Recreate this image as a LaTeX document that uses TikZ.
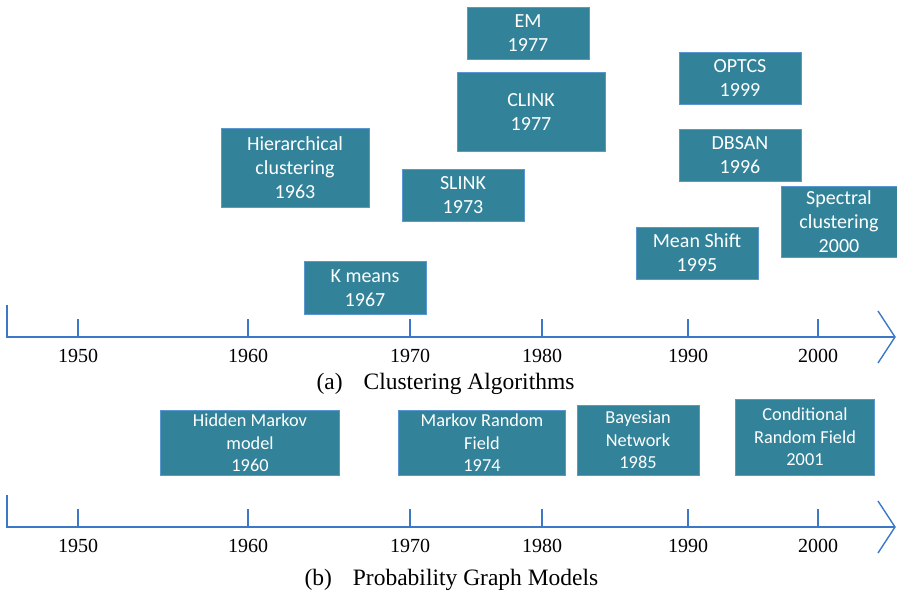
\documentclass[tikz,border=0pt]{standalone}
\usepackage{fontspec}
\setmainfont{Liberation Serif}
\newfontfamily\boxfont{Carlito}
\definecolor{boxfill}{RGB}{50,131,153}
\definecolor{boxline}{RGB}{90,150,210}
\definecolor{axisblue}{RGB}{60,120,200}
\tikzset{
  algo/.style={draw=boxline,fill=boxfill,text=white,align=center,inner sep=0pt,
    font=\boxfont\fontsize{20}{24}\selectfont},
  model/.style={algo,font=\boxfont\fontsize{18.3}{22.5}\selectfont},
  axisline/.style={axisblue,line width=1.4pt},
  yearlbl/.style={font=\fontsize{20}{22}\selectfont,below=8pt},
  caplbl/.style={font=\fontsize{23.5}{26}\selectfont}
}
\begin{document}
\begin{tikzpicture}[x=1pt,y=-1pt]
\useasboundingbox (0,0) rectangle (897,594);
% (a) clustering
\node[algo,minimum width=122,minimum height=52](em) at (528,33){EM\\1977};
\node[algo,minimum width=148,minimum height=79](clink) at (531,112){CLINK\\1977};
\node[algo,minimum width=122,minimum height=52](optcs) at (740,78){OPTCS\\1999};
\node[algo,minimum width=122,minimum height=52](dbsan) at (740,155){DBSAN\\1996};
\node[algo,minimum width=148,minimum height=79](hier) at (295,168){Hierarchical\\clustering\\1963};
\node[algo,minimum width=122,minimum height=52](slink) at (463,195){SLINK\\1973};
\node[algo,minimum width=116,minimum height=71](spec) at (839,222){Spectral\\clustering\\2000};
\node[algo,minimum width=122,minimum height=52](mshift) at (697,253){Mean Shift\\1995};
\node[algo,minimum width=122,minimum height=53](kmeans) at (365,288){K means\\1967};
\coordinate (a0) at (7,337);
\coordinate (a1) at (895,337);
\draw[axisline](7,305)--(a0)--(a1);
\draw[axisline](878,311)--(a1)--(878,363);
\foreach \x/\s in {78/1950,248/1960,410/1970,542/1980,688/1990,818/2000}{\draw[axisline](\x,337)node[yearlbl,black]{\s}--++(0,-18);}
\node[caplbl,anchor=base west](capa) at (313,389){(a)\hspace{21pt}Clustering Algorithms};
% (b) probability graph models
\node[model,minimum width=179,minimum height=65](hmm) at (250,443){Hidden Markov\\model\\1960};
\node[model,minimum width=167,minimum height=65](mrf) at (482,443){Markov Random\\Field\\1974};
\node[model,minimum width=122,minimum height=70](bn) at (638,440){Bayesian\\Network\\1985};
\node[model,minimum width=139,minimum height=76](crf) at (805,437){Conditional\\Random Field\\2001};
\coordinate (b0) at (7,527);
\coordinate (b1) at (895,527);
\draw[axisline](7,495)--(b0)--(b1);
\draw[axisline](878,501)--(b1)--(878,553);
\foreach \x/\s in {78/1950,248/1960,410/1970,542/1980,688/1990,818/2000}{\draw[axisline](\x,527)node[yearlbl,black]{\s}--++(0,-18);}
\node[caplbl,anchor=base west](capb) at (301,585){(b)\hspace{21pt}Probability Graph Models};
\end{tikzpicture}
\end{document}
